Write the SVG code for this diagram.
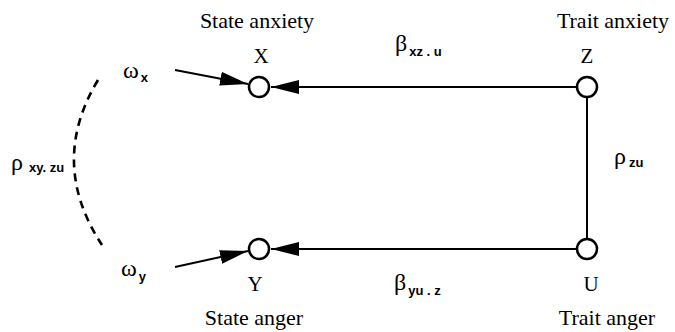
<svg xmlns="http://www.w3.org/2000/svg" width="675" height="332" viewBox="0 0 675 332">
<style>
.lbl{font-family:"Liberation Serif","Times New Roman",serif;font-size:22px;fill:#000}
.var{font-family:"Liberation Serif","Times New Roman",serif;font-size:21px;fill:#000}
.gk{font-family:"Liberation Serif","Times New Roman",serif;font-size:24px;fill:#000}
.sub{font-family:"Liberation Sans",Arial,sans-serif;font-size:13px;font-weight:bold;fill:#000}
.node{fill:#fff;stroke:#000;stroke-width:2.5}
.edge{fill:none;stroke:#000;stroke-width:2}
.dash{fill:none;stroke:#000;stroke-width:2.6;stroke-dasharray:8 6}
</style>
<defs>
<marker id="ah" markerUnits="userSpaceOnUse" markerWidth="30" markerHeight="16" refX="28" refY="7" orient="auto">
<path d="M0,0 L28,7 L0,14 z" fill="#000"/>
</marker>
</defs>
<rect width="675" height="332" fill="#fff"/>
<g id="connectors">
<line class="edge" x1="577" y1="87" x2="271" y2="87" marker-end="url(#ah)"/>
<line class="edge" x1="577" y1="249" x2="271" y2="249" marker-end="url(#ah)"/>
<line class="edge" x1="587" y1="97" x2="587" y2="239"/>
<line class="edge" x1="175" y1="70" x2="248" y2="84" marker-end="url(#ah)"/>
<line class="edge" x1="175" y1="267" x2="248" y2="251" marker-end="url(#ah)"/>
<path class="dash" d="M98,80 Q48,163 102,245"/>
<text class="gk" x="395" y="51">β<tspan class="sub" dx="2" dy="5">xz . u</tspan></text>
<text class="gk" x="394" y="290">β<tspan class="sub" dx="2" dy="5">yu . z</tspan></text>
<text class="gk" x="614" y="164">ρ<tspan class="sub" dx="3" dy="3">zu</tspan></text>
<text class="gk" x="11" y="170">ρ<tspan class="sub" dx="6" dy="2">xy. zu</tspan></text>
<text class="gk" x="123" y="78">ω<tspan class="sub" dx="2" dy="4">x</tspan></text>
<text class="gk" x="121" y="276">ω<tspan class="sub" dx="2" dy="5">y</tspan></text>
</g>
<g id="X">
<circle class="node" cx="259" cy="87" r="10"/>
<text class="var" x="261" y="63" text-anchor="middle">X</text>
<text class="lbl" x="257" y="28" text-anchor="middle">State anxiety</text>
</g>
<g id="Z">
<circle class="node" cx="587" cy="87" r="10"/>
<text class="var" x="587" y="63" text-anchor="middle">Z</text>
<text class="lbl" x="613" y="28" text-anchor="middle">Trait anxiety</text>
</g>
<g id="Y">
<circle class="node" cx="259" cy="249" r="10"/>
<text class="var" x="255" y="291" text-anchor="middle">Y</text>
<text class="lbl" x="254" y="325" text-anchor="middle">State anger</text>
</g>
<g id="U">
<circle class="node" cx="587" cy="249" r="10"/>
<text class="var" x="591" y="291" text-anchor="middle">U</text>
<text class="lbl" x="607" y="325" text-anchor="middle">Trait anger</text>
</g>
</svg>
